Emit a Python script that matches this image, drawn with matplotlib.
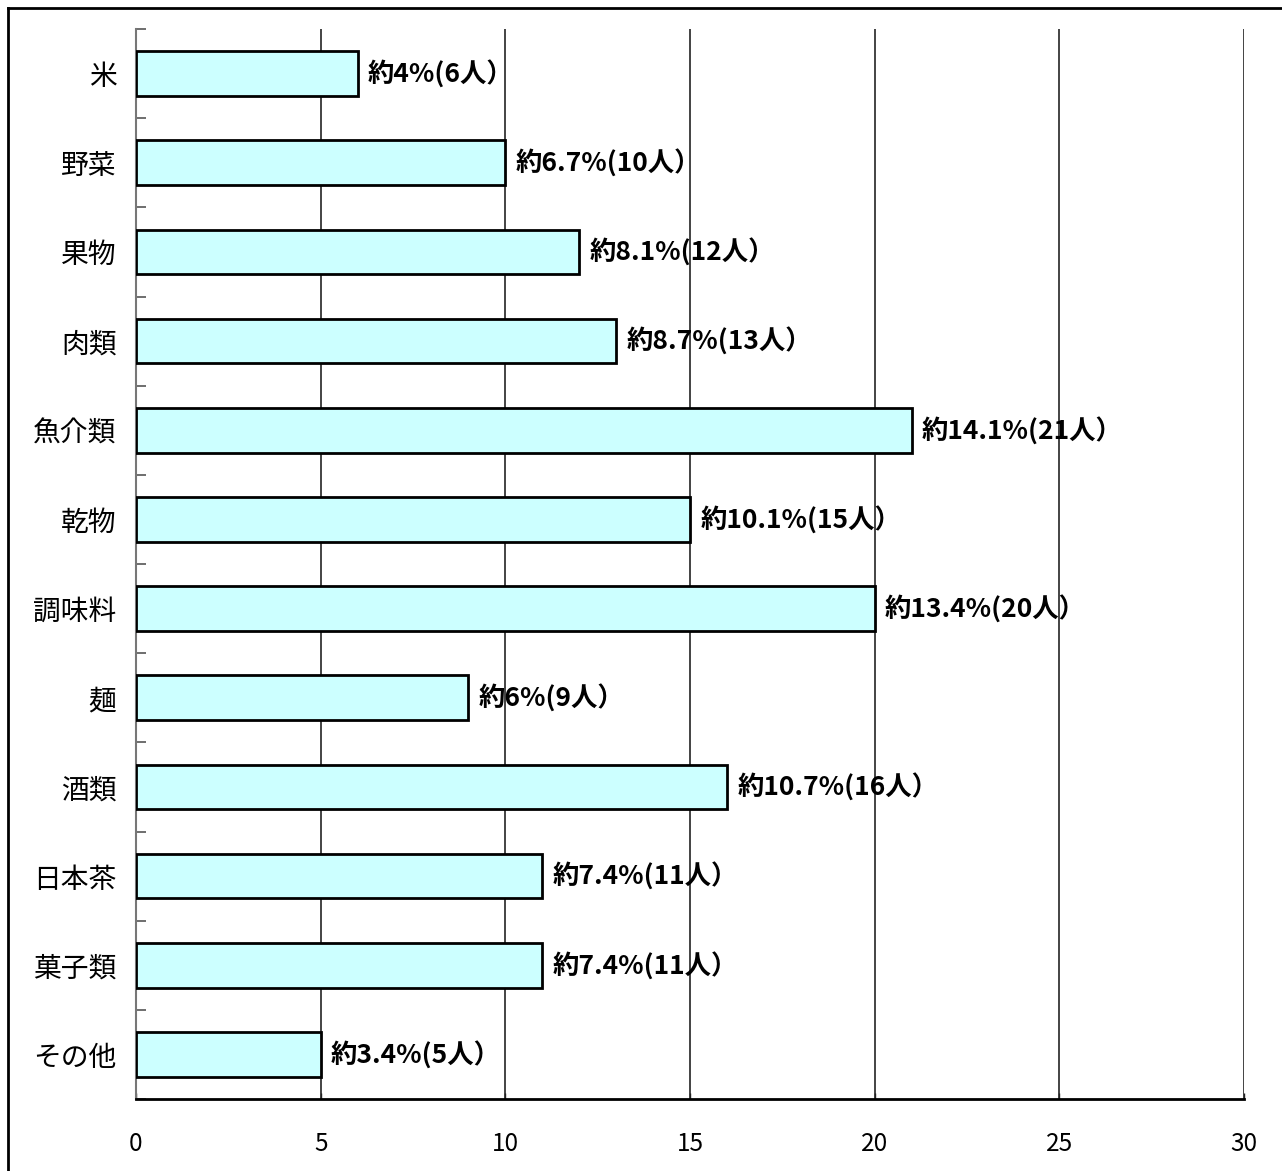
import numpy as np
import matplotlib.pyplot as plt
from matplotlib.lines import Line2D

plt.rcParams['font.family'] = ['Noto Sans CJK JP', 'DejaVu Sans']

categories = ['米', '野菜', '果物', '肉類', '魚介類', '乾物', '調味料',
              '麺', '酒類', '日本茶', '菓子類', 'その他']
counts = [6, 10, 12, 13, 21, 15, 20, 9, 16, 11, 11, 5]
percents = ['4', '6.7', '8.1', '8.7', '14.1', '10.1', '13.4',
            '6', '10.7', '7.4', '7.4', '3.4']
xticks = [0, 5, 10, 15, 20, 25, 30]

W, H = 1282, 1171
fig = plt.figure(figsize=(W / 100, H / 100), dpi=100)
ax = fig.add_axes([136 / W, 1 - 1099 / H, (1244 - 136) / W, (1099 - 29) / H])

y = np.arange(len(categories))
ax.barh(y, counts, height=0.5, color='#ccffff', edgecolor='black',
        linewidth=2, zorder=3)

for yi, c, p in zip(y, counts, percents):
    ax.text(c + 0.28, yi, f'約{p}%({c}人）', va='center', ha='left',
            fontsize=19, fontweight='bold', zorder=4)

ax.set_xlim(0, 30)
ax.set_ylim(len(categories) - 0.5, -0.5)
ax.set_xticks(xticks)
ax.set_xticklabels([str(t) for t in xticks], fontsize=17.5)
ax.tick_params(axis='x', direction='in', length=4, width=1, pad=23,
               color='#222222')

# category boundaries carry the ticks, labels sit on the bar centres
ax.set_yticks(np.arange(-0.5, len(categories), 1.0))
ax.set_yticklabels([])
ax.tick_params(axis='y', which='major', direction='in', length=7,
               width=1.2, color='#555555')
ax.set_yticks(y, minor=True)
ax.set_yticklabels(categories, minor=True, fontsize=20)
ax.tick_params(axis='y', which='minor', length=0, pad=14)

ax.grid(axis='x', color='#111111', linewidth=1.1, zorder=0)
ax.spines['top'].set_visible(False)
ax.spines['right'].set_visible(False)
ax.spines['left'].set_color('#777777')
ax.spines['left'].set_linewidth(1.5)
ax.spines['bottom'].set_linewidth(2)

# frame around the figure (top and left edges)
fx, fy = 7.5 / W, 1 - 7.5 / H
fig.add_artist(Line2D([fx, 1.0], [fy, fy], color='black', lw=2,
                      transform=fig.transFigure))
fig.add_artist(Line2D([fx, fx], [0.0, fy], color='black', lw=2,
                      transform=fig.transFigure))

fig.savefig('out.png', dpi=100)
